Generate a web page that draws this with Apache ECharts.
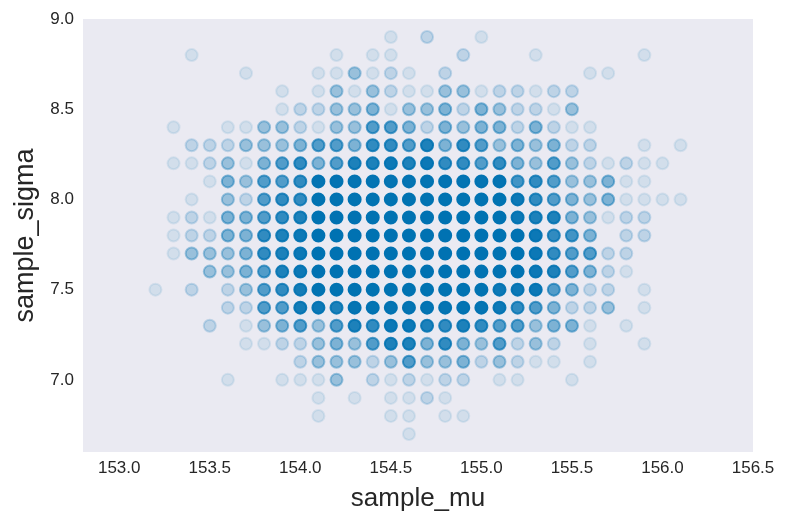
<!DOCTYPE html>
<html>
<head>
<meta charset="utf-8">
<script src="https://cdn.jsdelivr.net/npm/echarts@6/dist/echarts.min.js"></script>
<style>
  html, body { margin: 0; padding: 0; background: #ffffff; }
  #chart { width: 789px; height: 529px; }
</style>
</head>
<body>
<div id="chart"></div>
<script>
// grid columns (sample_mu) and rows (sample_sigma)
const muValues = [153.2,153.3,153.4,153.5,153.6,153.7,153.8,153.9,154.0,154.1,154.2,154.3,154.4,154.5,154.6,154.7,154.8,154.9,155.0,155.1,155.2,155.3,155.4,155.5,155.6,155.7,155.8,155.9,156.0,156.1];
const sigmaValues = [8.9,8.8,8.7,8.6,8.5,8.4,8.3,8.2,8.1,8.0,7.9,7.8,7.7,7.6,7.5,7.4,7.3,7.2,7.1,7.0,6.9,6.8,6.7];

// estimated number of samples at each (mu, sigma) cell, one array per sigma row
//               153.2 .3 .4 .5 .6 .7 .8 .9 154.0 .1 .2 .3 .4 .5 .6 .7 .8 .9 155.0 .1 .2 .3 .4 .5 .6 .7 .8 .9 156.0 .1
const row_8_9 = [0,0,0,0,0,0,0,0, 0, 0, 0, 0, 0, 1, 0, 2, 0, 0, 1, 0, 0, 0, 0, 0, 0,0,0,0,0,0];
const row_8_8 = [0,0,1,0,0,0,0,0, 0, 0, 1, 0, 1, 1, 0, 0, 0, 2, 0, 0, 0, 1, 0, 0, 0,0,0,1,0,0];
const row_8_7 = [0,0,0,0,0,1,0,0, 0, 1, 1, 4, 1, 2, 1, 0, 2, 0, 0, 0, 0, 0, 0, 0, 1,1,0,0,0,0];
const row_8_6 = [0,0,0,0,0,0,0,1, 0, 1, 4, 1, 4, 2, 1, 1, 4, 4, 1, 2, 2, 1, 2, 2, 0,0,0,0,0,0];
const row_8_5 = [0,0,0,0,0,0,0,1, 2, 2, 4, 4, 6, 1, 4, 4, 6, 2, 6, 4, 2, 2, 1, 4, 0,0,0,0,0,0];
const row_8_4 = [0,1,0,0,1,1,4,4, 2, 1, 4, 4,10,10, 6, 2, 6, 4, 6, 6, 2, 6, 2, 1, 1,0,0,0,0,0];
const row_8_3 = [0,0,2,2,2,4,4,4, 6,10,10, 6,15,15,10,20, 6,15,10, 4, 6, 4, 6, 2, 2,0,0,1,0,1];
const row_8_2 = [0,1,1,2,4,1,6,10,15,6,10,20,20,28,20,28,15,15,10,15, 6, 4,10, 4, 2,1,2,1,1,0];
const row_8_1 = [0,0,0,1,6,4,10,10,15,40,40,40,40,40,40,40,40,40,40,40,12,15,10, 4, 4,6,1,1,0,0];
const row_8_0 = [0,0,1,0,4,2,10,15,15,50,50,50,50,50,50,50,50,50,50,50,28,15,10, 6, 4,6,1,1,1,1];
const row_7_9 = [0,1,2,1,6,6,10,15,20,60,60,60,60,60,60,60,60,60,60,60,28,20,20, 6, 4,1,2,2,0,0];
const row_7_8 = [0,1,2,2,6,6,15,20,28,60,60,60,60,60,60,60,60,60,60,60,60,28,15,12, 6,0,2,2,0,0];
const row_7_7 = [0,1,4,4,4,6,15,20,28,60,60,60,60,60,60,60,60,60,60,60,60,28,15,10,10,2,2,0,0,0];
const row_7_6 = [0,0,0,4,4,6,10,20,28,60,60,60,60,60,60,60,60,60,60,60,60,28,20,10, 6,2,1,0,0,0];
const row_7_5 = [1,0,2,0,2,4,10,15,24,50,50,50,50,50,50,50,50,50,50,28,28,28,10, 6, 2,2,0,1,0,0];
const row_7_4 = [0,0,0,0,2,2,10,10,24,28,20,40,40,40,40,40,40,40,40,28,15,10, 6, 2, 2,4,0,1,0,0];
const row_7_3 = [0,0,0,2,0,1,4,6,10, 4,10,20,15,28,28,20,15,20,15,10,10, 4, 6, 6, 1,0,1,0,0,0];
const row_7_2 = [0,0,0,0,0,1,1,2, 2, 4, 6, 4,10,20,20, 6,15, 6, 4,10, 2, 4, 2, 0, 1,0,0,1,0,0];
const row_7_1 = [0,0,0,0,0,0,0,0, 2, 4, 4, 4, 2, 4,10, 4, 4, 6, 2, 4, 2, 1, 1, 0, 1,0,0,0,0,0];
const row_7_0 = [0,0,0,0,1,0,0,1, 1, 1, 4, 0, 2, 1, 2, 1, 2, 2, 0, 1, 1, 0, 0, 1, 0,0,0,0,0,0];
const row_6_9 = [0,0,0,0,0,0,0,0, 0, 1, 0, 1, 0, 1, 1, 2, 1, 0, 0, 0, 0, 0, 0, 0, 0,0,0,0,0,0];
const row_6_8 = [0,0,0,0,0,0,0,0, 0, 1, 0, 0, 0, 1, 1, 0, 1, 1, 0, 0, 0, 0, 0, 0, 0,0,0,0,0,0];
const row_6_7 = [0,0,0,0,0,0,0,0, 0, 0, 0, 0, 0, 0, 1, 0, 0, 0, 0, 0, 0, 0, 0, 0, 0,0,0,0,0,0];

const countRows = [row_8_9,row_8_8,row_8_7,row_8_6,row_8_5,row_8_4,row_8_3,row_8_2,row_8_1,row_8_0,
  row_7_9,row_7_8,row_7_7,row_7_6,row_7_5,row_7_4,row_7_3,row_7_2,row_7_1,row_7_0,row_6_9,row_6_8,row_6_7];

const xTicks = [153.0,153.5,154.0,154.5,155.0,155.5,156.0,156.5];
const yTicks = [7.0,7.5,8.0,8.5,9.0];

// each sample drawn with alpha 0.1 -> stacked opacity for n samples = 1 - 0.9^n
const pointAlpha = 0.1;
const data = [];
countRows.forEach((row, ri) => {
  row.forEach((n, ci) => {
    if (n > 0) {
      data.push({
        value: [muValues[ci], sigmaValues[ri]],
        itemStyle: { opacity: 1 - Math.pow(1 - pointAlpha, n) }
      });
    }
  });
});

const FONT = 'Liberation Sans, Arial, sans-serif';
const chart = echarts.init(document.getElementById('chart'), null, { renderer: 'canvas' });
chart.setOption({
  animation: false,
  backgroundColor: '#ffffff',
  grid: { left: 83, top: 19, right: 36, bottom: 77, show: true, backgroundColor: '#EAEAF2', borderWidth: 0 },
  xAxis: {
    type: 'value', min: 152.8, max: 156.5,
    name: 'sample_mu', nameLocation: 'middle', nameGap: 34,
    nameTextStyle: { fontFamily: FONT, fontSize: 26, color: '#262626' },
    axisLine: { show: false }, axisTick: { show: false }, splitLine: { show: false },
    axisLabel: { customValues: xTicks, formatter: v => v.toFixed(1), fontFamily: FONT, fontSize: 17, color: '#262626', margin: 8 }
  },
  yAxis: {
    type: 'value', min: 6.6, max: 9.0,
    name: 'sample_sigma', nameLocation: 'middle', nameGap: 43, nameRotate: 90,
    nameTextStyle: { fontFamily: FONT, fontSize: 27, color: '#262626' },
    axisLine: { show: false }, axisTick: { show: false }, splitLine: { show: false },
    axisLabel: { customValues: yTicks, formatter: v => v.toFixed(1), fontFamily: FONT, fontSize: 17, color: '#262626', margin: 9 }
  },
  series: [{
    type: 'scatter',
    symbol: 'circle',
    symbolSize: 12,
    large: false,
    progressive: 0,
    data: data,
    itemStyle: { color: '#0072B2', borderColor: '#0072B2', borderWidth: 2 }
  }]
});
</script>
</body>
</html>
